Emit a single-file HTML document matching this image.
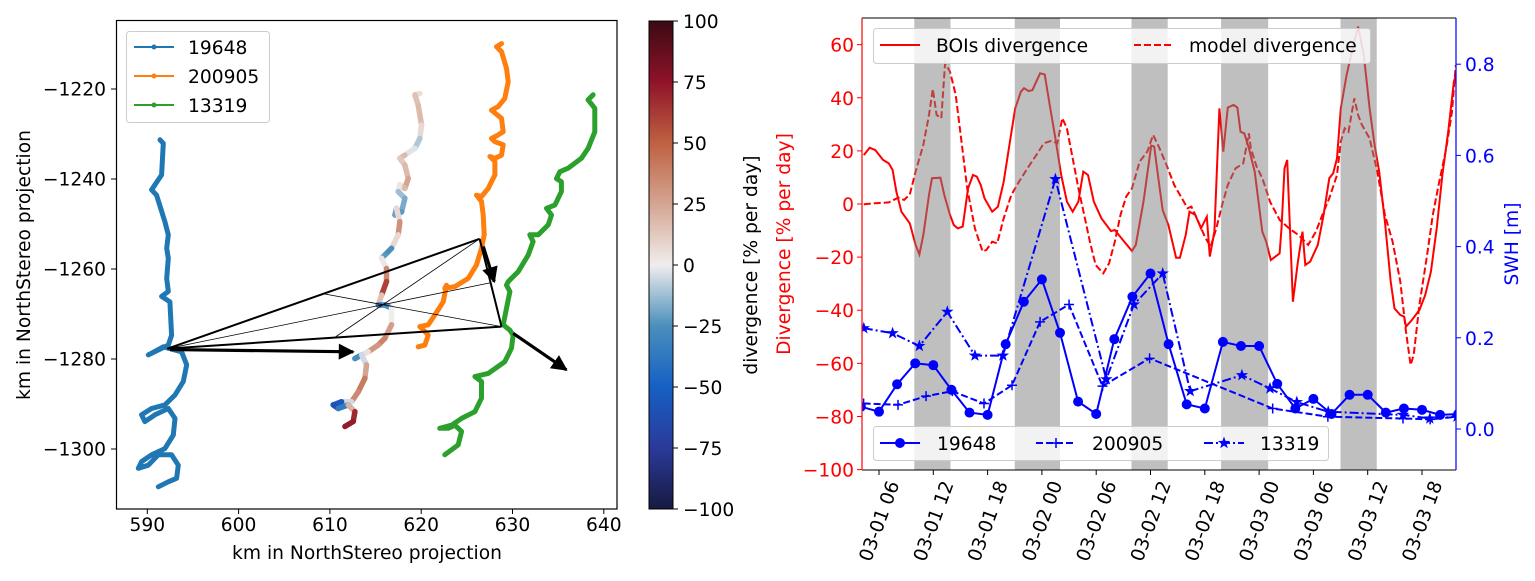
<!DOCTYPE html>
<html><head><meta charset="utf-8"><style>
html,body{margin:0;padding:0;background:#fff;}
svg{display:block;font-family:"DejaVu Sans","Liberation Sans",sans-serif;}
</style></head><body>
<svg id="fig" width="1535" height="581" viewBox="0 0 1535 581" xmlns="http://www.w3.org/2000/svg">
<defs>
<linearGradient id="cbgrad" x1="0" y1="1" x2="0" y2="0">
<stop offset="0" stop-color="#171a3f"/><stop offset="0.125" stop-color="#2a3a9a"/><stop offset="0.25" stop-color="#1660c4"/>
<stop offset="0.375" stop-color="#4a8fbb"/><stop offset="0.5" stop-color="#f0eded"/><stop offset="0.625" stop-color="#d4a592"/>
<stop offset="0.75" stop-color="#bf6142"/><stop offset="0.875" stop-color="#8f1329"/><stop offset="1" stop-color="#3a0a14"/>
</linearGradient>
<clipPath id="clipL"><rect x="117" y="21" width="500" height="488"/></clipPath>
<clipPath id="clipR"><rect x="862" y="18" width="594" height="452"/></clipPath>
<marker id="ah" viewBox="0 0 10 10" refX="9" refY="5" markerWidth="6" markerHeight="5" orient="auto" markerUnits="strokeWidth"><path d="M0,0 L10,5 L0,10 z" fill="#000"/></marker>
</defs>
<g id="left"></g>
<g id="cbar"></g>
<g id="right"></g>
</svg>
<script>
// ---------- LEFT MAP DATA (km) ----------
const blueX=[591.39,591.75,591.57,590.47,591.02,591.93,592.3,592.12,592.3,592.12,592.3,591.57,592.48,592.66,592.3,590.11,591.75,593.76,594.31,593.94,593.03,591.93,590.47,589.38,589.74,590.84,592.3,593.03,592.85,591.93,590.47,589.38,589.01,590.11,591.2,592.66,593.39,593.21,592.3,591.2];
const blueY=[-1231.3,-1232.1,-1239.1,-1242.4,-1243.6,-1249.5,-1252.4,-1255.4,-1257.6,-1262.1,-1265.0,-1266.1,-1267.3,-1274.7,-1276.9,-1279.1,-1277.3,-1278.4,-1281.3,-1285.0,-1288.0,-1290.2,-1291.0,-1292.4,-1293.9,-1292.4,-1291.0,-1293.2,-1296.9,-1299.9,-1301.3,-1302.8,-1304.3,-1303.6,-1301.3,-1301.3,-1303.6,-1306.5,-1307.3,-1308.4];
const midX=[619.85,619.31,619.67,620.04,619.85,619.31,618.21,617.66,618.21,618.58,618.21,617.66,617.48,618.21,617.85,617.12,617.3,617.66,617.48,616.75,616.02,615.66,616.2,616.2,615.66,615.29,616.02,616.75,616.75,616.02,615.29,614.2,613.1,612.74,613.47,614.01,613.83,613.1,612.37,611.28,610.36,610.91,612.01,612.74,612.55,611.64];
const midY=[-1221.0,-1221.3,-1223.6,-1228.0,-1231.0,-1233.2,-1234.7,-1235.4,-1236.9,-1239.9,-1242.1,-1241.3,-1242.8,-1244.3,-1247.3,-1248.0,-1246.5,-1249.5,-1252.4,-1255.4,-1256.9,-1257.6,-1259.9,-1262.8,-1265.8,-1268.0,-1268.0,-1268.7,-1272.4,-1275.4,-1276.9,-1278.4,-1279.5,-1279.9,-1279.1,-1281.3,-1284.3,-1287.3,-1289.5,-1289.5,-1290.2,-1291.0,-1290.2,-1291.7,-1293.9,-1295.0];
const midDiv=[0,10,20,15,0,-20,15,20,5,30,20,15,-10,-15,-20,-25,-15,30,35,-20,-30,-15,20,50,70,-40,-30,-20,20,35,40,20,-10,-30,-20,10,40,40,30,-40,-70,-50,-20,60,75,70];
const orangeX=[628.8,628.25,628.8,629.34,629.53,629.16,628.43,627.7,628.8,628.98,628.43,627.7,628.07,628.98,628.8,628.07,627.52,628.07,628.07,627.34,626.61,626.06,626.61,626.79,626.9,626.61,626.06,625.15,623.69,622.59,622.77,622.41,621.5,620.77,619.85,620.4,620.77,620.4,619.67];
const orangeY=[-1209.9,-1210.6,-1211.7,-1215.4,-1218.4,-1222.1,-1223.9,-1224.7,-1226.5,-1229.5,-1230.2,-1231.0,-1231.7,-1232.4,-1234.7,-1235.4,-1235.0,-1236.1,-1239.1,-1242.1,-1243.9,-1243.6,-1245.0,-1248.0,-1252.4,-1255.4,-1259.1,-1262.1,-1263.9,-1264.3,-1263.6,-1267.3,-1270.2,-1272.4,-1272.8,-1273.9,-1274.7,-1276.9,-1277.3];
const greenX=[638.83,638.28,639.01,639.01,638.28,637.55,636.09,635.18,634.82,635.36,635.36,634.64,633.72,634.27,633.91,632.81,631.9,632.26,631.72,630.62,629.53,629.34,629.71,629.34,628.98,629.71,630.07,629.89,629.16,627.34,625.88,626.61,626.61,625.88,624.42,623.32,622.04,622.96,623.69,624.42,624.05,622.59];
const greenY=[-1221.3,-1222.4,-1224.3,-1229.5,-1233.2,-1235.4,-1237.6,-1238.4,-1239.9,-1240.6,-1242.8,-1245.8,-1246.5,-1248.0,-1250.2,-1252.4,-1252.4,-1253.9,-1256.9,-1260.6,-1262.8,-1263.6,-1265.0,-1268.7,-1272.4,-1273.6,-1274.7,-1277.6,-1280.6,-1283.2,-1283.9,-1285.0,-1288.7,-1291.7,-1293.2,-1294.7,-1295.4,-1295.4,-1294.7,-1296.1,-1299.1,-1301.3];
const triX=[592.2,626.4,628.8];
const triY=[-1277.7,-1253.3,-1272.8];
const arrowX0=[592.5,626.8,630.07], arrowY0=[-1277.9,-1255.0,-1274.3];
const arrowX1=[612.55,628.0,635.9], arrowY1=[-1278.4,-1262.8,-1282.4];
const xTicksL=[590,600,610,620,630,640];
const yTicksL=[-1220,-1240,-1260,-1280,-1300];
const cbTicks=[100,75,50,25,0,-25,-50,-75,-100];

// ---------- RIGHT TIMESERIES DATA (hours since 03-01 00) ----------
const bH=[4.32,4.96,5.59,6.44,7.08,7.5,7.92,8.47,9.4,10.04,10.46,10.89,11.52,11.86,12.79,13.21,13.85,14.27,14.7,15.25,15.84,16.39,16.81,17.24,17.66,18.51,19.14,19.78,20.41,21.05,21.68,22.02,22.53,22.95,23.38,23.8,24.31,24.86,25.49,26.13,26.76,27.4,28.03,28.58,29.09,29.73,30.57,31.63,32.05,33.11,33.96,34.38,35.23,36.08,36.41,36.92,37.35,37.98,38.83,39.25,39.89,40.31,40.95,41.58,42.22,42.55,43.06,43.61,44.04,44.54,45.18,45.6,45.94,46.36,46.87,47.51,48.35,48.78,49.29,50.26,50.47,50.81,51.11,51.74,52.29,52.8,53.1,53.65,54.49,55.13,55.76,56.19,56.61,57.03,57.67,58.52,58.94,59.57,60.21,60.76,61.27,61.9,62.54,62.96,63.6,64.02,64.23,64.87,65.71,66.35,66.98,67.62,68.25,68.89,69.52,69.86];
const bV=[18.4,21.2,20.3,16.6,15.3,12.8,4.6,-2.9,-7.3,-15.4,-19.0,-11.7,3.4,9.7,9.9,3.4,-4.1,-7.9,-9.2,-8.5,5.9,10.9,10.3,7.2,2.2,-2.9,-1.0,8.4,22.2,36.0,42.3,43.6,42.5,42.9,46.1,49.2,48.8,37.3,24.7,10.9,0.9,-2.9,0.9,12.2,10.9,0.9,-5.4,-10.2,-9.8,-14.2,-17.7,-15.4,0.9,22.0,21.6,8.4,-2.3,-7.9,-20.2,-20.2,-11.7,-2.9,-4.1,-9.2,-4.8,-19.8,-10.4,36.0,19.7,36.3,37.3,36.3,27.2,26.6,21.0,12.2,-10.4,-14.2,-21.1,-18.6,-9.2,13.4,16.6,-36.8,-21.7,-10.4,-23.0,-21.7,-15.4,-4.1,9.7,11.6,17.2,36.0,48.6,61.1,66.8,56.1,36.0,22.2,12.2,-6.6,-29.2,-39.3,-41.8,-42.4,-46.2,-43.7,-39.9,-34.3,-25.5,-9.2,11.0,27.2,46.1,49.8];
const mH=[4.32,5.59,7.08,8.13,8.77,9.4,10.04,10.89,11.52,11.94,12.37,12.88,13.3,13.85,14.48,15.12,15.75,16.6,17.45,17.87,18.51,19.06,19.78,20.62,21.47,22.53,23.38,24.22,25.07,25.7,26.25,26.76,27.4,28.03,28.67,29.3,29.94,30.78,31.42,32.05,32.69,33.32,33.96,34.81,35.65,36.29,36.92,37.77,38.62,39.46,40.1,40.52,40.95,41.37,42.0,42.64,43.27,43.91,44.54,45.39,46.24,46.87,47.08,47.72,48.35,49.2,50.26,51.32,52.37,53.43,54.28,55.13,55.76,56.61,57.03,57.46,57.88,58.52,58.94,59.36,60.21,61.06,61.9,62.75,63.6,64.23,64.74,65.08,65.71,66.56,67.19,67.83,68.68,69.31,69.73];
const mV=[-0.1,0.3,0.6,2.4,1.5,3.6,12.2,22.2,33.5,43.3,33.5,32.3,53.0,49.8,41.1,23.5,5.9,-9.2,-17.9,-17.3,-14.2,-14.8,-5.4,3.4,8.4,14.1,18.4,22.9,23.8,22.9,32.3,28.5,17.2,5.9,-4.1,-14.2,-23.0,-26.1,-22.3,-14.2,-4.1,2.8,5.9,16.0,19.7,26.0,21.6,14.7,7.2,2.2,-1.6,-1.0,-4.1,-7.3,-12.3,-16.1,-9.2,-0.4,7.2,13.4,15.3,26.6,21.0,14.1,9.7,0.9,-6.0,-9.2,-11.7,-15.4,-10.4,-2.9,2.2,10.9,23.5,28.5,27.2,39.8,33.5,29.8,24.7,12.2,-4.1,-14.2,-29.2,-48.1,-60.6,-56.8,-38.0,-19.2,-4.1,7.2,21.0,34.8,52.3];
const s1H=[4,6,8,10,12,14,16,18,20,22,24,26,28,30,32,34,36,38,40,42,44,46,48,50,52,54,56,58,60,62,64,66,68,70];
const s1M=[0.049,0.038,0.098,0.144,0.140,0.086,0.036,0.031,0.186,0.279,0.328,0.211,0.060,0.033,0.197,0.290,0.341,0.186,0.054,0.045,0.191,0.182,0.182,0.099,0.045,0.066,0.033,0.075,0.075,0.036,0.045,0.042,0.031,0.033];
const s2H=[4.3,8.1,11.2,14.1,17.6,20.7,23.8,27.0,30.7,35.9,49.5,55.6,63.9,66.9,69.9];
const s2M=[0.056,0.053,0.072,0.083,0.056,0.096,0.235,0.273,0.094,0.155,0.045,0.027,0.023,0.021,0.027];
const s3H=[4.32,7.5,10.46,13.55,16.6,19.69,25.49,31.12,34.17,37.35,40.39,46.1,49.2,52.17,55.64,63.9,66.86,69.86];
const s3M=[0.221,0.210,0.182,0.257,0.161,0.161,0.548,0.109,0.273,0.341,0.083,0.118,0.089,0.059,0.038,0.031,0.023,0.027];
const shadeStart=[9.9,21,33.9,43.8,57];
const shadeEnd=[13.9,26,37.9,49,61];
const xTickH=[6,12,18,24,30,36,42,48,54,60,66];
const xTickLabels=["03-01 06","03-01 12","03-01 18","03-02 00","03-02 06","03-02 12","03-02 18","03-03 00","03-03 06","03-03 12","03-03 18"];
const yTicksD=[60,40,20,0,-20,-40,-60,-80,-100];
const yTicksS=[0.0,0.2,0.4,0.6,0.8];

const NS="http://www.w3.org/2000/svg";
function mk(tag,attrs,parent){const e=document.createElementNS(NS,tag);for(const k in attrs)e.setAttribute(k,attrs[k]);if(parent)parent.appendChild(e);return e;}
function txt(s,attrs,parent){const e=mk('text',attrs,parent);e.textContent=s;return e;}
const fmt=v=>String(v).replace('-','\u2212');

const xL=k=>147.3+(k-590)*9.13, yL=k=>89-(k+1220)*4.5;
const xR=h=>879+(h-6)*9.05, yD=v=>204-v*2.656, yS=m=>429-m*456;
const cbY=v=>21+(100-v)/200*488;

function cmap(v){
 const st=[[-100,[23,26,63]],[-75,[42,58,154]],[-50,[22,96,196]],[-25,[74,143,187]],[0,[240,237,237]],[25,[212,165,146]],[50,[191,97,66]],[75,[143,19,41]],[100,[58,10,20]]];
 v=Math.max(-100,Math.min(100,v));
 for(let i=0;i<st.length-1;i++){if(v<=st[i+1][0]){const t=(v-st[i][0])/25;const c=st[i][1].map((a,j)=>Math.round(a+(st[i+1][1][j]-a)*t));return `rgb(${c})`;}}
 return 'rgb(58,10,20)';
}

// ===== LEFT =====
const L=document.getElementById('left');
const Lp=mk('g',{'clip-path':'url(#clipL)'},L);
function track(xs,ys,col,name){
 const pts=xs.map((x,i)=>xL(x).toFixed(1)+','+yL(ys[i]).toFixed(1)).join(' ');
 const p=mk('polyline',{points:pts,fill:'none',stroke:col,'stroke-width':5,'stroke-linejoin':'round','stroke-linecap':'round'},Lp);
 
 
}
track(blueX,blueY,'#1f77b4','track-19648');
track(orangeX,orangeY,'#ff7f0e','track-200905');
track(greenX,greenY,'#2ca02c','track-13319');
const mg=mk('g',{},Lp);


for(let i=0;i<midX.length-1;i++){
 const a=(midDiv[i]+midDiv[i+1])/2;
 const s=mk('line',{x1:xL(midX[i]),y1:yL(midY[i]),x2:xL(midX[i+1]),y2:yL(midY[i+1]),stroke:cmap(a),'stroke-width':5.5,'stroke-linecap':'round'},mg);
 
 
}
const tg=mk('g',{},Lp);


for(let i=0;i<3;i++){const j=(i+1)%3;mk('line',{x1:xL(triX[i]),y1:yL(triY[i]),x2:xL(triX[j]),y2:yL(triY[j]),stroke:'#000','stroke-width':2},tg);}
for(let i=0;i<3;i++){const j=(i+1)%3,k=(i+2)%3;mk('line',{x1:xL(triX[i]),y1:yL(triY[i]),x2:(xL(triX[j])+xL(triX[k]))/2,y2:(yL(triY[j])+yL(triY[k]))/2,stroke:'#000','stroke-width':0.8},tg);}
for(let i=0;i<3;i++){
 const a=mk('line',{x1:xL(arrowX0[i]),y1:yL(arrowY0[i]),x2:xL(arrowX1[i]),y2:yL(arrowY1[i]),stroke:'#000','stroke-width':3.2,'marker-end':'url(#ah)'},Lp);
 
 
}
mk('rect',{x:116.5,y:20.5,width:500.5,height:488.5,fill:'none',stroke:'#000','stroke-width':1.2},L);
xTicksL.forEach(v=>{const x=xL(v);mk('line',{x1:x,y1:509,x2:x,y2:514,stroke:'#000','stroke-width':1},L);
 const t=txt(String(v),{x:x,y:531,'font-size':18.67,'text-anchor':'middle'},L);});
yTicksL.forEach(v=>{const y=yL(v);mk('line',{x1:111,y1:y,x2:116.5,y2:y,stroke:'#000','stroke-width':1},L);
 const t=txt(fmt(v),{x:106,y:y+6.5,'font-size':18.67,'text-anchor':'end'},L);});
txt('km in NorthStereo projection',{x:367,y:559,'font-size':18.67,'text-anchor':'middle',},L);
txt('km in NorthStereo projection',{x:0,y:0,transform:'translate(30,265) rotate(-90)','font-size':18.67,'text-anchor':'middle',},L);
const lg=mk('g',{},L);
mk('rect',{x:126.5,y:31.5,width:143,height:91,rx:3,fill:'rgba(255,255,255,0.8)',stroke:'#ccc'},lg);
[['19648','#1f77b4'],['200905','#ff7f0e'],['13319','#2ca02c']].forEach((e,i)=>{const y=47+i*29;
 mk('line',{x1:134,y1:y,x2:174,y2:y,stroke:e[1],'stroke-width':2},lg);mk('circle',{cx:154,cy:y,r:2.5,fill:e[1]},lg);
 const t=txt(e[0],{x:188,y:y+7,'font-size':18.67},lg);});

// ===== COLORBAR =====
const C=document.getElementById('cbar');
mk('rect',{x:649,y:21,width:24,height:488,fill:'url(#cbgrad)',stroke:'#000','stroke-width':1},C);
cbTicks.forEach(v=>{const y=cbY(v);mk('line',{x1:673,y1:y,x2:678,y2:y,stroke:'#000'},C);
 const t=txt(fmt(v),{x:683,y:y+7,'font-size':18.67},C);});
txt('divergence [% per day]',{x:0,y:0,transform:'translate(757,265) rotate(-90)','font-size':18.67,'text-anchor':'middle',},C);

// ===== RIGHT =====
const R=document.getElementById('right');
const Rp=mk('g',{'clip-path':'url(#clipR)'},R);
function line(xs,ys,fx,fy,col,dash,name){
 const pts=xs.map((x,i)=>fx(x).toFixed(1)+','+fy(ys[i]).toFixed(1)).join(' ');
 const p=mk('polyline',{points:pts,fill:'none',stroke:col,'stroke-width':2,'stroke-dasharray':dash},Rp);
 
 
}
line(bH,bV,xR,yD,'#ff0000','none','bois-divergence-line');
line(mH,mV,xR,yD,'#ff0000','7,3','model-divergence-line');
shadeStart.forEach((s,i)=>{const r=mk('rect',{x:xR(s),y:18,width:xR(shadeEnd[i])-xR(s),height:452,fill:'rgba(128,128,128,0.5)'},Rp);
 
 });
line(s1H,s1M,xR,yS,'#0000ff','none','swh-19648-line');
line(s2H,s2M,xR,yS,'#0000ff','7,3','swh-200905-line');
line(s3H,s3M,xR,yS,'#0000ff','9,3,2,3','swh-13319-line');
function star(cx,cy,r,parent){let d='';for(let i=0;i<10;i++){const a=-Math.PI/2+i*Math.PI/5,rr=i%2?r*0.4:r;d+=(i?'L':'M')+(cx+rr*Math.cos(a)).toFixed(1)+','+(cy+rr*Math.sin(a)).toFixed(1);}return mk('path',{d:d+'Z',fill:'#0000ff'},parent);}
s1H.forEach((h,i)=>{const c=mk('circle',{cx:xR(h),cy:yS(s1M[i]),r:5,fill:'#0000ff'},Rp);});
s2H.forEach((h,i)=>{const x=xR(h),y=yS(s2M[i]);const p=mk('path',{d:`M${x-5},${y}H${x+5}M${x},${y-5}V${y+5}`,stroke:'#0000ff','stroke-width':1.5},Rp);});
s3H.forEach((h,i)=>{const p=star(xR(h),yS(s3M[i]),6.5,Rp);});
mk('line',{x1:862,y1:18,x2:1456,y2:18,stroke:'#000'},R);
mk('line',{x1:862,y1:470,x2:1456,y2:470,stroke:'#000'},R);
mk('line',{x1:862,y1:18,x2:862,y2:470,stroke:'#ff0000','stroke-width':1.2},R);
mk('line',{x1:1456,y1:18,x2:1456,y2:470,stroke:'#0000ff','stroke-width':1.2},R);
yTicksD.forEach(v=>{const y=yD(v);mk('line',{x1:857,y1:y,x2:862,y2:y,stroke:'#ff0000'},R);
 const t=txt(fmt(v),{x:854,y:y+7,'font-size':18.67,'text-anchor':'end',fill:'#ff0000'},R);});
yTicksS.forEach(v=>{const y=yS(v);mk('line',{x1:1456,y1:y,x2:1461,y2:y,stroke:'#0000ff'},R);
 const t=txt(v.toFixed(1),{x:1465,y:y+7,'font-size':18.67,fill:'#0000ff'},R);});
xTickH.forEach((h,i)=>{const x=xR(h);mk('line',{x1:x,y1:470,x2:x,y2:475,stroke:'#000'},R);
 const t=txt(xTickLabels[i],{x:0,y:0,dy:'0.35em',transform:`translate(${x},${521}) rotate(-70)`,'font-size':18.67,'text-anchor':'middle'},R);});
txt('Divergence [% per day]',{x:0,y:0,transform:'translate(790,244) rotate(-90)','font-size':18.67,'text-anchor':'middle',fill:'#ff0000',},R);
txt('SWH [m]',{x:0,y:0,transform:'translate(1518,244) rotate(-90)','font-size':18.67,'text-anchor':'middle',fill:'#0000ff',},R);
const tl=mk('g',{},R);
mk('rect',{x:873.5,y:28.5,width:497,height:35,rx:3,fill:'rgba(255,255,255,0.8)',stroke:'#ccc'},tl);
mk('line',{x1:880,y1:45,x2:920,y2:45,stroke:'#ff0000','stroke-width':2},tl);
txt('BOIs divergence',{x:936,y:52,'font-size':18.67,},tl);
mk('line',{x1:1134,y1:45,x2:1174,y2:45,stroke:'#ff0000','stroke-width':2,'stroke-dasharray':'7,3'},tl);
txt('model divergence',{x:1189,y:52,'font-size':18.67,},tl);
const bl=mk('g',{},R);
mk('rect',{x:873.5,y:426.5,width:455,height:34,rx:3,fill:'rgba(255,255,255,0.8)',stroke:'#ccc'},bl);
mk('line',{x1:880,y1:443,x2:920,y2:443,stroke:'#0000ff','stroke-width':2},bl);mk('circle',{cx:900,cy:443,r:5,fill:'#0000ff'},bl);
txt('19648',{x:937,y:450,'font-size':18.67,},bl);
mk('line',{x1:1036,y1:443,x2:1076,y2:443,stroke:'#0000ff','stroke-width':2,'stroke-dasharray':'7,3'},bl);mk('path',{d:'M1051,443H1061M1056,438V448',stroke:'#0000ff','stroke-width':1.5},bl);
txt('200905',{x:1092,y:450,'font-size':18.67,},bl);
mk('line',{x1:1204,y1:443,x2:1244,y2:443,stroke:'#0000ff','stroke-width':2,'stroke-dasharray':'9,3,2,3'},bl);star(1224,443,6.5,bl);
txt('13319',{x:1260,y:450,'font-size':18.67,},bl);
</script>
</body></html>
